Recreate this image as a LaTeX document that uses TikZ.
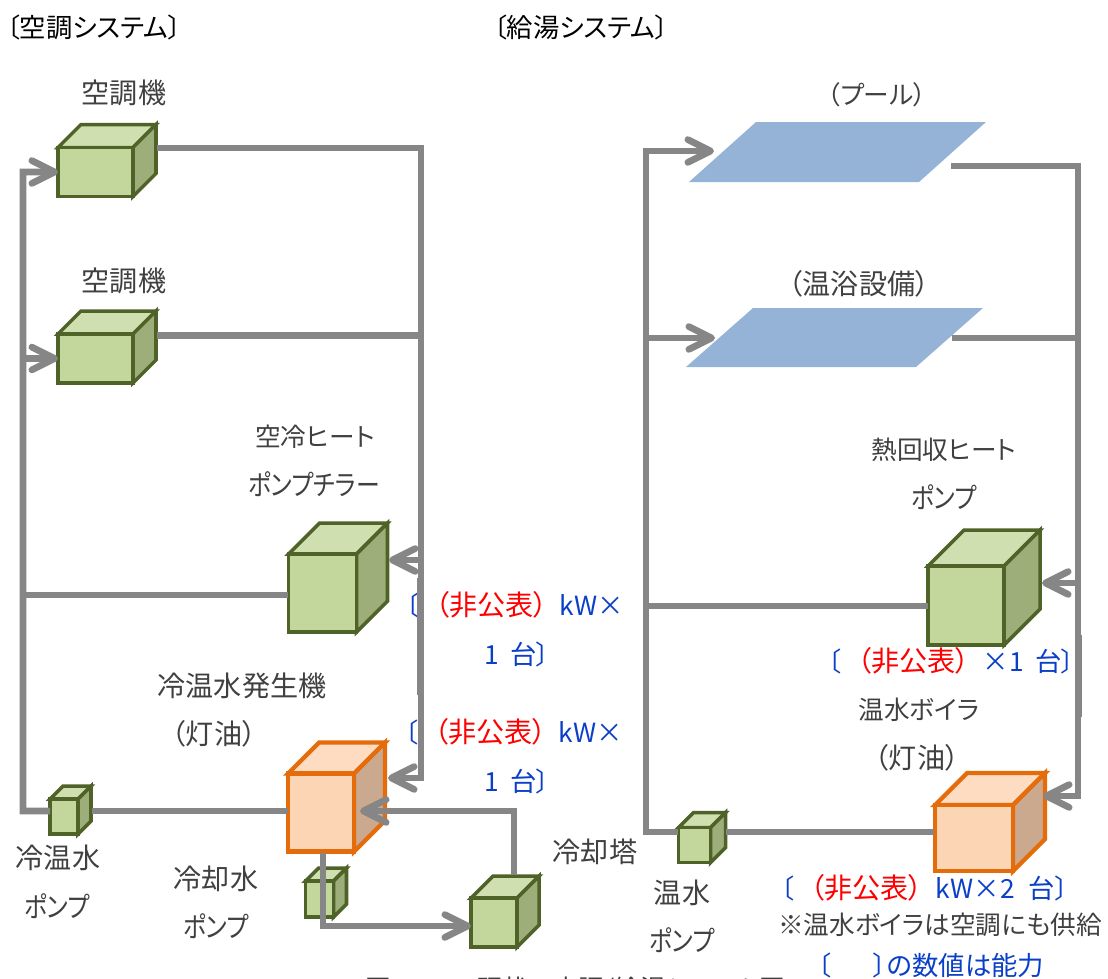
\documentclass[tikz,border=0pt]{standalone}
\usepackage{fontspec}
\setmainfont[RawFeature=+palt]{Noto Sans CJK JP}
\newfontfamily\kanafont[RawFeature=+palt, FakeStretch=0.85]{Noto Sans CJK JP}
\usetikzlibrary{arrows.meta}
\definecolor{pipegray}{HTML}{868686}
\definecolor{labelgray}{HTML}{404040}
\definecolor{noteblue}{HTML}{0B3FC8}
\definecolor{notered}{HTML}{FF0000}
\definecolor{pooblue}{HTML}{95B3D7}
\definecolor{greenedge}{HTML}{4F6228}
\definecolor{greenfront}{HTML}{C3D69B}
\definecolor{greentop}{HTML}{D0DFAF}
\definecolor{greenside}{HTML}{9DAE7B}
\definecolor{orangeedge}{HTML}{E46C0A}
\definecolor{orangefront}{HTML}{FCD5B5}
\definecolor{orangetop}{HTML}{FDDCC2}
\definecolor{orangeside}{HTML}{CAA98F}
\newcommand{\hiddenval}{\textcolor{notered}{\fontsize{16}{18}\selectfont （非公表）}}
\begin{document}
\begin{tikzpicture}[x = 0.02cm, y = -0.02cm,
    pipe/.style = {draw = pipegray, line width = 3.8pt},
    flow/.style = {pipe, -{Straight Barb[length = 13pt, width = 13pt, line width = 3.8pt, round]}},
    heading/.style = {font = \fontsize{15}{17}\selectfont, text = black, inner sep = 0pt},
    label/.style = {font = \fontsize{14.6}{17}\selectfont, text = labelgray, inner sep = 0pt},
    kanji/.style = {label, font = \fontsize{16}{18}\selectfont},
    kana/.style = {label, font = \kanafont\fontsize{16}{18}\selectfont},
    note/.style = {font = \fontsize{15}{17}\selectfont, text = noteblue, inner sep = 0pt, anchor = west},
    greenbox/.style = {draw = greenedge, line width = 2pt, line join = miter},
    orangebox/.style = {draw = orangeedge, line width = 2.4pt, line join = miter},
    front/.style = {inner sep = 0pt, outer sep = 0pt, anchor = north west}]
    \clip (0, 0) rectangle (1108, 978);

    \foreach \name/\x/\y/\w/\h/\d in {aca/58/147.5/75/49/23, acb/58/334/75/49/23, chiller/288.5/554/68/78/31, cwpump/50/799/28/35/13, clpump/305.5/881/28/36/13, tower/471/898/46/49/22, hwpump/678.5/827.5/32/35/15, hp/928/566/76/79/36} {
        \draw [greenbox, fill = greentop] (\x, \y) -- ++(\d, -\d) -- ++(\w, 0) -- ++(-\d, \d) -- cycle;
        \draw [greenbox, fill = greenside] (\x + \w, \y) -- ++(\d, -\d) -- ++(0, \h) -- ++(-\d, \d) -- cycle;
        \node [front, greenbox, fill = greenfront, minimum width = \w * 0.02cm, minimum height = \h * 0.02cm] (\name) at (\x, \y) {};
    }
    \foreach \name/\x/\y/\w/\h/\d in {absorb/288/773.5/66/78/31, boiler/935/805/78/66/32} {
        \draw [orangebox, fill = orangetop] (\x, \y) -- ++(\d, -\d) -- ++(\w, 0) -- ++(-\d, \d) -- cycle;
        \draw [orangebox, fill = orangeside] (\x + \w, \y) -- ++(\d, -\d) -- ++(0, \h) -- ++(-\d, \d) -- cycle;
        \node [front, orangebox, fill = orangefront, minimum width = \w * 0.02cm, minimum height = \h * 0.02cm] (\name) at (\x, \y) {};
    }
    \fill [pooblue] (689, 182) -- (756, 122) -- (986, 122) -- (919, 182) -- cycle;
    \fill [pooblue] (686, 367) -- (753, 308) -- (983, 308) -- (916, 367) -- cycle;

    \node [heading] (airtitle) at (94, 27) {〔空調システム〕};
    \node [heading] (hottitle) at (581, 27) {〔給湯システム〕};
    \node [kanji] (acalabel) at (124, 93) {空調機};
    \node [kanji] (acblabel) at (124, 281) {空調機};
    \node [label] (chillerlabela) at (315, 437) {空冷ヒート};
    \node [kana] (chillerlabelb) at (314, 484) {ポンプチラー};
    \node [kanji] (absorblabela) at (242, 686) {冷温水発生機};
    \node [kanji] (absorblabelb) at (214, 734) {（灯油）};
    \node [kanji] (cwlabela) at (58, 858) {冷温水};
    \node [kana] (cwlabelb) at (57, 906) {ポンプ};
    \node [kanji] (cllabela) at (216, 879) {冷却水};
    \node [kana] (cllabelb) at (216, 926) {ポンプ};
    \node [kanji] (towerlabel) at (595, 852) {冷却塔};
    \node [kanji] (hwlabela) at (682, 893) {温水};
    \node [kana] (hwlabelb) at (682, 940) {ポンプ};
    \node [label] (poollabel) at (877, 95) {（プール）};
    \node [kanji] (bathlabel) at (859, 284) {（温浴設備）};
    \node [label] (hplabela) at (944, 450) {熱回収ヒート};
    \node [kana] (hplabelb) at (944, 497) {ポンプ};
    \node [label] (boilerlabela) at (919, 710) {温水ボイラ};
    \node [kanji] (boilerlabelb) at (917, 758) {（灯油）};
    \node [label] (boilernote) at (940, 925) {※温水ボイラは空調にも供給};
    \node [note] (chillercapa) at (406, 605) {〔\hspace{.6em}\hiddenval\hspace{.45em}kW×};
    \node [note] (chillercapb) at (484, 654) {1\hspace{.2em} 台〕};
    \node [note] (absorbcapa) at (405, 732) {〔\hspace{.6em}\hiddenval\hspace{.45em}kW×};
    \node [note] (absorbcapb) at (484, 781) {1\hspace{.2em} 台〕};
    \node [note] (hpcap) at (828, 661) {〔\hspace{.6em}\hiddenval\hspace{.5em}×1\hspace{.2em} 台〕};
    \node [note] (boilercap) at (781, 888) {〔\hspace{.6em}\hiddenval\hspace{.5em}kW×2\hspace{.3em} 台〕};
    \node [note] (capnote) at (818, 965) {〔\hspace{1.6em}〕の数値は能力};
    \node [label, anchor = north] (caption) at (575, 977) {図 1-2-12 現状の空調/給湯システム図};

    \foreach \name/\x/\y in {cwin/50/811, cwout/92/811, suptop/23/172, supbot/23/811, acaout/157/148, acbout/157/335.5, rettop/421/148, retbot/421/778, chillerin/389/560, chillerout/288/595, absorbin/388/778, coolin/360/811, towerout/514/875, coolcor/514/811, absorbout/323/853, towercor/323/926, towerin/471/926, seamla/420.5/578, seamlb/420.5/695} {
        \coordinate (\name) at (\x, \y);
    }
    \foreach \name/\x/\y in {hwin/678/832, hwout/726/832, hwbot/646/832, hwtop/646/151, poolin/714/151, bathin/715/338, poolout/951/166, bathout/952/338, hottop/1078/166, hotbot/1078/796, boilerin/1043/796, hpin/1042/583, hpjoin/646/606, boilerback/934/832, seamra/1079/635, seamrb/1079/717} {
        \coordinate (\name) at (\x, \y);
    }

    \draw [flow] (cwin) -- (supbot) -- (suptop) -- (aca.west);
    \draw [flow] (suptop |- acb.west) -- (acb.west);
    \draw [pipe] (suptop |- chillerout) -- (chillerout);
    \draw [pipe] (cwout) -- (absorb.west |- cwout);
    \draw [flow] (acaout) -- (rettop) -- (retbot) -- (absorbin);
    \draw [pipe] (acbout) -- (rettop |- acbout);
    \draw [flow] (rettop |- chillerin) -- (chillerin);
    \draw [pipe] (seamla) -- (seamlb);
    \draw [flow] (towerout) -- (coolcor) -- (coolin);
    \draw [flow] (absorbout) -- (towercor) -- (towerin);

    \draw [flow] (hwin) -- (hwbot) -- (hwtop) -- (poolin);
    \draw [flow] (hwbot |- bathin) -- (bathin);
    \draw [pipe] (hpjoin) -- (hp.west |- hpjoin);
    \draw [pipe] (hwout) -- (boilerback);
    \draw [flow] (poolout) -- (hottop) -- (hotbot) -- (boilerin);
    \draw [pipe] (bathout) -- (hottop |- bathout);
    \draw [flow] (hottop |- hpin) -- (hpin);
    \draw [pipe] (seamra) -- (seamrb);
\end{tikzpicture}
\end{document}
